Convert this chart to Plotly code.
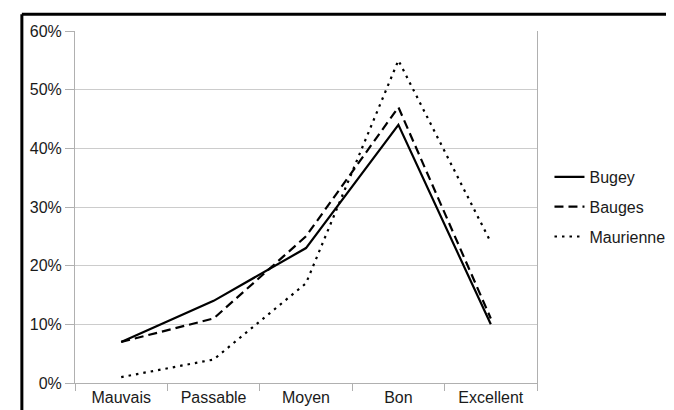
import plotly.graph_objects as go

categories = ["Mauvais", "Passable", "Moyen", "Bon", "Excellent"]
bugey = [7, 14, 23, 44, 10]
bauges = [7, 11, 25, 47, 11]
maurienne = [1, 4, 17, 55, 24]
series_names = ["Bugey", "Bauges", "Maurienne"]
y_ticks = [0, 10, 20, 30, 40, 50, 60]
y_tick_labels = ["0%", "10%", "20%", "30%", "40%", "50%", "60%"]

FONT = "Liberation Sans, Arial, sans-serif"

fig = go.Figure()
for name, vals, dash in zip(series_names, [bugey, bauges, maurienne],
                            ["solid", "9px,5px", "2.5px,5px"]):
    fig.add_trace(go.Scatter(
        x=categories, y=vals, mode="lines", name=name, legendgroup=name,
        line=dict(color="black", width=2.2, dash=dash),
    ))

fig.update_layout(
    width=674, height=410,
    margin=dict(l=67, r=133, t=23, b=30),
    paper_bgcolor="white", plot_bgcolor="white",
    font=dict(family=FONT, size=16, color="#1a1a1a"),
    showlegend=True,
    legend=dict(x=1.027, xanchor="left", y=0.5, yanchor="middle",
                font=dict(size=16), tracegroupgap=6, bgcolor="rgba(0,0,0,0)"),
    shapes=[
        dict(type="line", xref="paper", yref="paper", x0=-0.115, x1=2, y0=1.0476, y1=1.0476,
             line=dict(color="black", width=3)),
        dict(type="line", xref="paper", yref="paper", x0=-0.115, x1=-0.115, y0=1.0476, y1=-1,
             line=dict(color="black", width=3)),
    ],
)
fig.update_xaxes(
    type="category", tickson="boundaries", ticks="outside", ticklen=7, tickcolor="#b0b0b0",
    showline=True, linecolor="#b0b0b0", linewidth=1, mirror=False, showgrid=False,
    tickfont=dict(size=16), range=[-0.5, 4.5],
)
fig.update_yaxes(
    range=[0, 60], tickvals=y_ticks, ticktext=y_tick_labels, ticks="outside", ticklen=9,
    tickcolor="#b0b0b0", showline=True, linecolor="#b0b0b0", linewidth=1, mirror=True,
    showgrid=True, gridcolor="#cccccc", gridwidth=1, zeroline=False, tickfont=dict(size=16),
)

fig.write_html("out.html")
